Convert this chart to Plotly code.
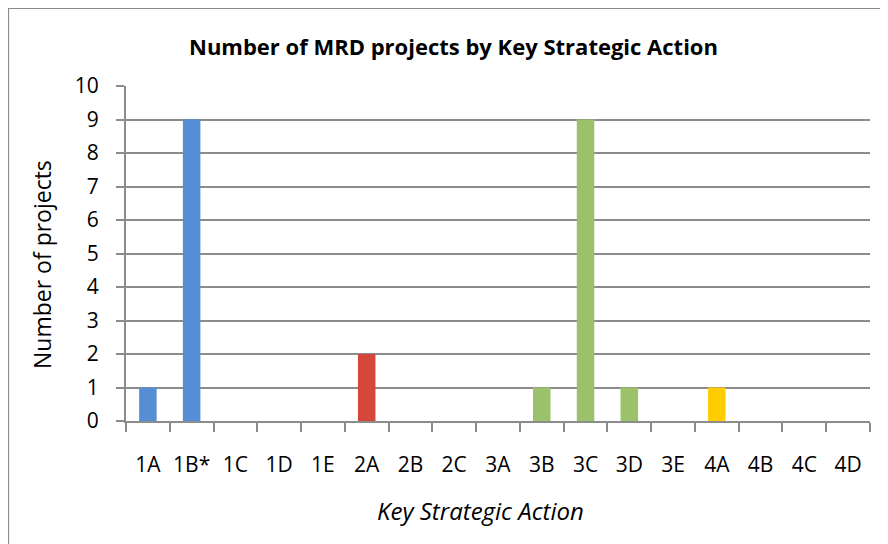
import plotly.graph_objects as go

categories = ["1A", "1B*", "1C", "1D", "1E", "2A", "2B", "2C", "3A", "3B",
              "3C", "3D", "3E", "4A", "4B", "4C", "4D"]
values = [1, 9, 0, 0, 0, 2, 0, 0, 0, 1, 9, 1, 0, 1, 0, 0, 0]
groups = ["1", "1", "1", "1", "1", "2", "2", "2", "3", "3", "3", "3", "3",
          "4", "4", "4", "4"]
group_colors = {"1": "#558ED5", "2": "#D5473A", "3": "#9BC26B", "4": "#FFCC00"}
y_ticks = list(range(0, 11))

FONT = "Open Sans"
# page body has an 8px margin; figure coordinates below are screen - 8
W, H = 880, 536
L, R, T, B = 118, 18, 78, 123
pw, ph = W - L - R, H - T - B

fig = go.Figure(go.Bar(
    x=categories, y=values, width=0.4,
    marker=dict(color=[group_colors[g] for g in groups], line=dict(width=0)),
    hoverinfo="x+y",
))

def px_x(p):
    return (p - L) / pw

def px_y(p):
    return (H - B - p) / ph

fig.update_layout(
    width=W, height=H,
    margin=dict(l=L, r=R, t=T, b=B),
    paper_bgcolor="white", plot_bgcolor="white",
    showlegend=False,
    font=dict(family=FONT, size=21, color="#000000"),
    xaxis=dict(
        type="category", tickson="boundaries", ticks="outside", ticklen=9,
        tickcolor="#8c8c8c", tickwidth=2, showline=True, linecolor="#8c8c8c",
        linewidth=2, showgrid=False, tickfont=dict(family=FONT, size=21),
        tickangle=0, ticklabelstandoff=24, range=[-0.5, 16.5],
    ),
    yaxis=dict(
        range=[0, 10], tickvals=y_ticks, ticks="outside", ticklen=8,
        tickcolor="#8c8c8c", tickwidth=2, showline=True, linecolor="#8c8c8c",
        linewidth=2, showgrid=True, gridcolor="#8c8c8c", gridwidth=2,
        zeroline=False, tickfont=dict(family=FONT, size=21),
        ticklabelstandoff=13,
    ),
    shapes=[dict(
        type="rect", xref="paper", yref="paper",
        x0=px_x(0.5), x1=px_x(W + 5), y0=px_y(H + 5), y1=px_y(0.5),
        line=dict(color="#8c8c8c", width=1.2), fillcolor="rgba(0,0,0,0)",
        layer="below",
    )],
    annotations=[
        dict(text="<b>Number of MRD projects by Key Strategic Action</b>",
             xref="paper", yref="paper", x=px_x(445), y=px_y(38),
             xanchor="center", yanchor="middle", showarrow=False,
             font=dict(family=FONT, size=22)),
        dict(text="<i>Key Strategic Action</i>",
             xref="paper", yref="paper", x=px_x(472), y=px_y(502),
             xanchor="center", yanchor="middle", showarrow=False,
             font=dict(family=FONT, size=24)),
        dict(text="Number of projects", textangle=-90,
             xref="paper", yref="paper", x=px_x(34), y=px_y(257),
             xanchor="center", yanchor="middle", showarrow=False,
             font=dict(family=FONT, size=23)),
    ],
)

fig.write_html("out.html")
